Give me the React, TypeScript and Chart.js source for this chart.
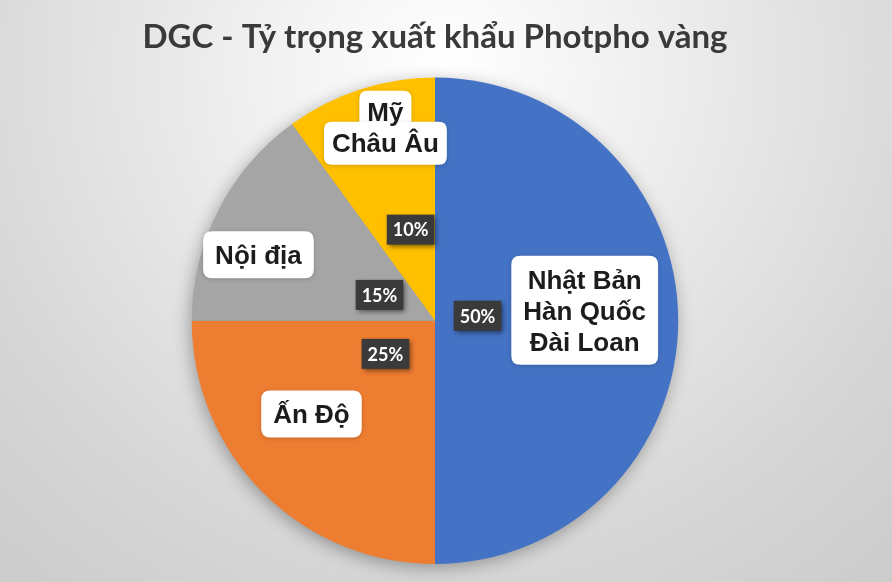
import React, { useEffect, useRef } from "react";
import { Chart, registerables } from "chart.js";

Chart.register(...registerables);

const title = "DGC - Tỷ trọng xuất khẩu Photpho vàng";
const categories: string[][] = [
  ["Nhật Bản", "Hàn Quốc", "Đài Loan"],
  ["Ấn Độ"],
  ["Nội địa"],
  ["Mỹ", "Châu Âu"],
];
const shares = [50, 25, 15, 10];
const sliceColors = ["#4472C4", "#ED7D31", "#A5A5A5", "#FFC000"];

// label placement (style): angle offset (deg) from slice mid-angle and radius fraction
const namePlacement = [
  { dA: -4, r: 0.617, perLine: false },
  { dA: 8, r: 0.636, perLine: false },
  { dA: -6.5, r: 0.775, perLine: false },
  { dA: 3.6, r: 0.82, perLine: true },
];
const pctPlacement = [
  { dA: -6.7, r: 0.176 },
  { dA: 11.3, r: 0.245 },
  { dA: -2, r: 0.252 },
  { dA: 3, r: 0.388 },
];

function roundRect(ctx: CanvasRenderingContext2D, x: number, y: number, w: number, h: number, r: number) {
  ctx.beginPath();
  ctx.moveTo(x + r, y);
  ctx.lineTo(x + w - r, y);
  ctx.quadraticCurveTo(x + w, y, x + w, y + r);
  ctx.lineTo(x + w, y + h - r);
  ctx.quadraticCurveTo(x + w, y + h, x + w - r, y + h);
  ctx.lineTo(x + r, y + h);
  ctx.quadraticCurveTo(x, y + h, x, y + h - r);
  ctx.lineTo(x, y + r);
  ctx.quadraticCurveTo(x, y, x + r, y);
  ctx.closePath();
}

const bgPlugin = {
  id: "bg",
  beforeDraw(chart: any) {
    const { ctx, width, height } = chart;
    ctx.save();
    const g = ctx.createRadialGradient(446, 70, 0, 446, 70, 720);
    g.addColorStop(0, "#ffffff");
    g.addColorStop(0.25, "#f1f1f1");
    g.addColorStop(0.7, "#d6d6d6");
    g.addColorStop(1, "#c9c9c9");
    ctx.fillStyle = g;
    ctx.fillRect(0, 0, width, height);
    ctx.restore();
  },
  beforeDatasetsDraw(chart: any) {
    const meta = chart.getDatasetMeta(0);
    const arc = meta.data[0];
    if (!arc) return;
    const { x, y, outerRadius } = arc.getProps(["x", "y", "outerRadius"], true);
    const ctx = chart.ctx;
    ctx.save();
    ctx.shadowColor = "rgba(0,0,0,0.35)";
    ctx.shadowBlur = 18;
    ctx.shadowOffsetX = -2;
    ctx.shadowOffsetY = 4;
    ctx.fillStyle = "#999";
    ctx.beginPath();
    ctx.arc(x, y, outerRadius - 1, 0, Math.PI * 2);
    ctx.fill();
    ctx.restore();
  },
};

const labelPlugin = {
  id: "sliceLabels",
  afterDatasetsDraw(chart: any) {
    const ctx: CanvasRenderingContext2D = chart.ctx;
    const meta = chart.getDatasetMeta(0);
    const values = chart.data.datasets[0].data as number[];
    const total = values.reduce((a, b) => a + b, 0);
    meta.data.forEach((arc: any, i: number) => {
      const { x, y, startAngle, endAngle, outerRadius } = arc.getProps(
        ["x", "y", "startAngle", "endAngle", "outerRadius"],
        true
      );
      const mid = (startAngle + endAngle) / 2;

      // percentage box
      const pp = pctPlacement[i];
      const pa = mid + (pp.dA * Math.PI) / 180;
      const px = x + Math.cos(pa) * outerRadius * pp.r;
      const py = y + Math.sin(pa) * outerRadius * pp.r;
      const pctText = Math.round((values[i] / total) * 100) + "%";
      ctx.save();
      ctx.font = 'bold 18px "Lato"';
      const pw = ctx.measureText(pctText).width + 12;
      const ph = 30;
      ctx.shadowColor = "rgba(0,0,0,0.55)";
      ctx.shadowBlur = 5;
      ctx.shadowOffsetX = 2;
      ctx.shadowOffsetY = 2;
      ctx.fillStyle = "#3a3a3a";
      ctx.fillRect(px - pw / 2, py - ph / 2, pw, ph);
      ctx.shadowColor = "transparent";
      ctx.fillStyle = "#ffffff";
      ctx.textAlign = "center";
      ctx.textBaseline = "middle";
      ctx.fillText(pctText, px, py + 1);
      ctx.restore();

      // name box
      const np = namePlacement[i];
      const na = mid + (np.dA * Math.PI) / 180;
      const nx = x + Math.cos(na) * outerRadius * np.r;
      const ny = y + Math.sin(na) * outerRadius * np.r;
      const lines = categories[i];
      const lineH = 31;
      const padX = 12;
      const padY = 8;
      ctx.save();
      ctx.font = 'bold 26px "Liberation Sans"';
      const widths = lines.map((l) => ctx.measureText(l).width);
      const totalH = lines.length * lineH;
      const top = ny - totalH / 2;
      ctx.shadowColor = "rgba(0,0,0,0.18)";
      ctx.shadowBlur = 4;
      ctx.shadowOffsetY = 1;
      ctx.fillStyle = "#ffffff";
      if (np.perLine) {
        lines.forEach((_, k) => {
          const w = widths[k] + 2 * 8;
          roundRect(ctx, nx - w / 2, top + k * lineH - padY + 2, w, lineH + 2 * padY - 4, 8);
          ctx.fill();
        });
      } else {
        const w = Math.max(...widths) + 2 * padX;
        roundRect(ctx, nx - w / 2, top - padY, w, totalH + 2 * padY, 9);
        ctx.fill();
      }
      ctx.shadowColor = "transparent";
      ctx.fillStyle = "#1c1c1c";
      ctx.textAlign = "center";
      ctx.textBaseline = "middle";
      lines.forEach((l, k) => {
        ctx.fillText(l, nx, top + k * lineH + lineH / 2 + 2);
      });
      ctx.restore();
    });
  },
};

export default function App() {
  const ref = useRef<HTMLCanvasElement>(null);
  useEffect(() => {
    document.body.style.margin = "0";
    const canvas = ref.current!;
    const chart = new Chart(canvas, {
      type: "pie",
      data: {
        labels: categories.map((c) => c.join(" ")),
        datasets: [
          {
            data: shares,
            backgroundColor: sliceColors,
            borderWidth: 0,
          },
        ],
      },
      options: {
        responsive: false,
        animation: false,
        devicePixelRatio: 1,
        layout: { padding: { top: 0, left: 0, right: 22, bottom: 18 } },
        plugins: {
          legend: { display: false },
          tooltip: { enabled: false },
          title: {
            display: true,
            text: title,
            color: "#3a3a3a",
            font: { family: "Lato", size: 33, weight: "bold", lineHeight: 1.2 },
            padding: { top: 18, bottom: 20 },
          },
        },
      },
      plugins: [bgPlugin, labelPlugin],
    });
    return () => chart.destroy();
  }, []);
  return (
    <div style={{ width: 892, height: 582 }}>
      <canvas ref={ref} width={892} height={582} style={{ display: "block" }} />
    </div>
  );
}
